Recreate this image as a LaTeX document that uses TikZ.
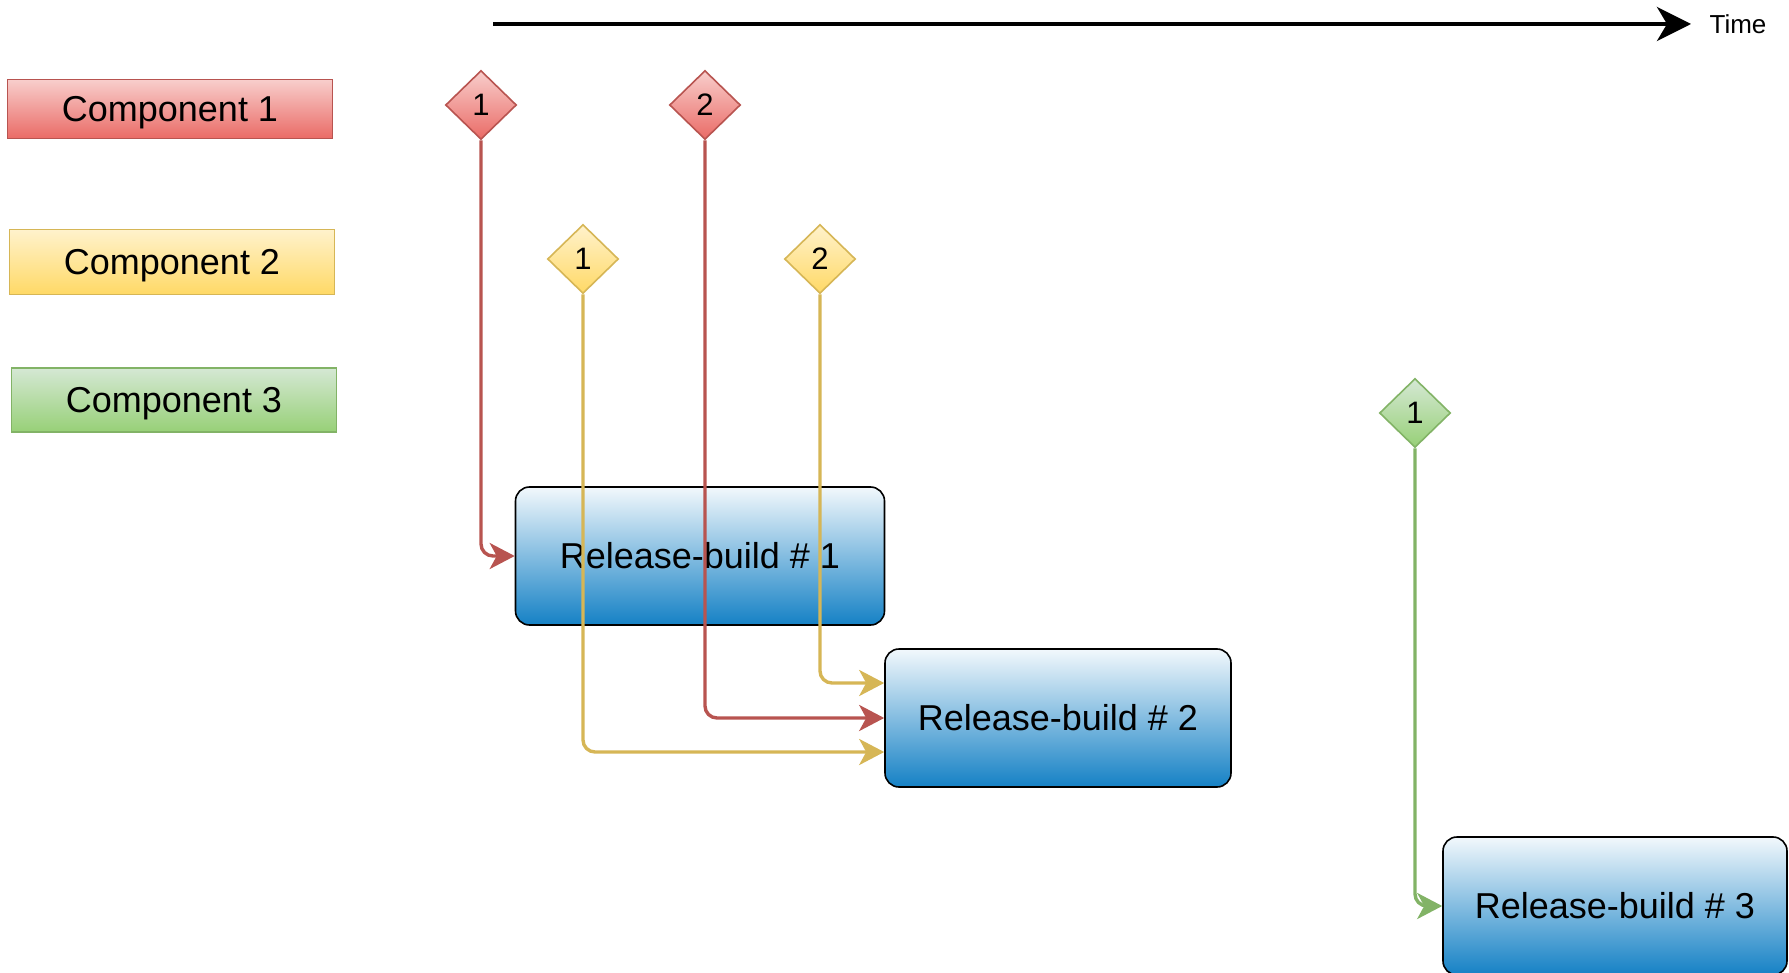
\documentclass[tikz,border=0pt]{standalone}
\usepackage{fontspec}
\setmainfont{Liberation Sans}
\usetikzlibrary{shapes.geometric,arrows.meta}
\definecolor{redS}{HTML}{B85450}
\definecolor{redT}{HTML}{F8CECC}
\definecolor{redB}{HTML}{EA6B66}
\definecolor{yelS}{HTML}{D6B656}
\definecolor{yelT}{HTML}{FFF2CC}
\definecolor{yelB}{HTML}{FFD966}
\definecolor{grnS}{HTML}{82B366}
\definecolor{grnT}{HTML}{D5E8D4}
\definecolor{grnB}{HTML}{97D077}
\definecolor{bluT}{HTML}{F2F8FC}
\definecolor{bluB}{HTML}{1581C5}
\begin{document}
\begin{tikzpicture}[x=0.5pt,y=-0.5pt,
  comp/.style={draw=#1S, line width=0.8pt, top color=#1T, bottom color=#1B,
    minimum width=162.5pt, inner sep=0pt, text depth=0pt,
    font=\fontsize{18}{20}\selectfont},
  mile/.style={diamond, draw=#1S, line width=0.8pt, top color=#1T, bottom color=#1B,
    minimum width=35.5pt, minimum height=34.5pt, inner sep=0pt,
    font=\fontsize{15.5}{17}\selectfont},
  rbox/.style={draw=black, line width=0.8pt, rounded corners=7pt,
    top color=bluT, bottom color=bluB, inner sep=0pt,
    minimum height=69pt, font=\fontsize{18}{20}\selectfont},
  conn/.style={draw=#1, line width=1.7pt, rounded corners=6pt,
    -{Stealth[length=12.5pt,width=13pt,inset=3.5pt]}},
  timearrow/.style={draw=black, line width=2pt,
    -{Stealth[length=17pt,width=17pt,inset=5pt]}}
]
\useasboundingbox (0,0) rectangle (1789,973);

% time axis
\coordinate (t0) at (493,24);
\coordinate (t1) at (1691,24);
\draw[timearrow] (t0) -- (t1);
\node[font=\fontsize{13}{15}\selectfont, inner sep=0pt] (time) at (1738,24) {Time};

% components
\node[comp=red, minimum height=29.5pt] (c1) at (170,109) {Component 1};
\node[comp=yel, minimum height=32.5pt] (c2) at (172,262) {Component 2};
\node[comp=grn, minimum height=32pt] (c3) at (174,400) {Component 3};

% milestones
\node[mile=red] (r1) at (481,105) {1};
\node[mile=red] (r2) at (705,105) {2};
\node[mile=yel] (y1) at (583,259) {1};
\node[mile=yel] (y2) at (820,259) {2};
\node[mile=grn] (g1) at (1415,413) {1};

% release builds
\node[rbox, minimum width=184.5pt] (rb1) at (700,556) {Release-build \# 1};
\node[rbox, minimum width=173pt] (rb2) at (1058,718) {Release-build \# 2};
\node[rbox, minimum width=172pt] (rb3) at (1615,906) {Release-build \# 3};

% connectors
\draw[conn=redS] (r1.south) |- (rb1.west);
\draw[conn=yelS] (y1.south) |- ([yshift=-17pt]rb2.west);
\draw[conn=redS] (r2.south) |- (rb2.west);
\draw[conn=yelS] (y2.south) |- ([yshift=17.5pt]rb2.west);
\draw[conn=grnS] (g1.south) |- (rb3.west);
\end{tikzpicture}
\end{document}
